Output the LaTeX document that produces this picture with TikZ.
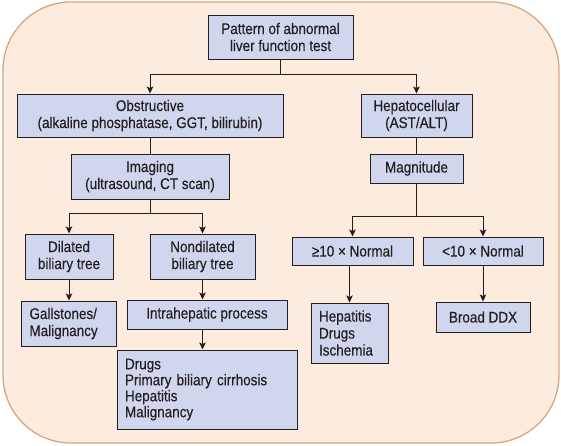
\documentclass[tikz,border=0pt]{standalone}
\usepackage{fontspec}
\setmainfont{Liberation Sans}[FakeStretch=0.87, FakeBold=0.3]
\usetikzlibrary{arrows.meta}
\definecolor{bgfill}{RGB}{253,236,222}
\definecolor{bgline}{RGB}{214,166,128}
\definecolor{boxfill}{RGB}{208,214,238}
\definecolor{inkline}{RGB}{35,31,32}

\begin{document}
\begin{tikzpicture}[
    x=1pt, y=-1pt,
    stepbox/.style={draw=inkline, fill=boxfill, line width=1pt, inner sep=0pt, align=center, text=inkline, font=\fontsize{15.5}{17}\selectfont},
    listbox/.style={stepbox, align=left, inner xsep=8pt},
    link/.style={draw=inkline, line width=1pt},
    arrowlink/.style={link, -{Stealth[length=7pt, width=6.5pt, inset=1.5pt]}}
]
\useasboundingbox (0,0) rectangle (561,445);

% Rounded background panel
\draw[draw=bgline, fill=bgfill, line width=1.3pt, rounded corners=68pt] (3,2) rectangle (559,443);

% Top level
\node[stepbox, minimum width=145, minimum height=44] (pattern) at (280.5,37) {Pattern of abnormal\\liver function test};
\node[stepbox, minimum width=266, minimum height=43] (obst) at (150,115.5) {Obstructive\\(alkaline phosphatase, GGT, bilirubin)};
\node[stepbox, minimum width=111, minimum height=43] (hepato) at (416.5,115.5) {Hepatocellular\\(AST/ALT)};

% Obstructive branch
\node[stepbox, minimum width=158, minimum height=45] (imaging) at (150,176.5) {Imaging\\(ultrasound, CT scan)};
\node[stepbox, minimum width=88, minimum height=45] (dilated) at (69,256.5) {Dilated\\biliary tree};
\node[stepbox, minimum width=105, minimum height=45] (nondil) at (202.5,256.5) {Nondilated\\biliary tree};
\node[listbox, text width=79, minimum height=45] (gall) at (69,323.5) {Gallstones/\\Malignancy};
\node[stepbox, minimum width=160, minimum height=29] (intra) at (207,314.5) {Intrahepatic process};
\node[listbox, text width=164, minimum height=79, font=\fontsize{15.5}{16}\selectfont] (causes) at (207,389.5) {Drugs\\Primary biliary cirrhosis\\Hepatitis\\Malignancy};

% Hepatocellular branch
\node[stepbox, minimum width=93, minimum height=29] (magn) at (416.5,168.5) {Magnitude};
\node[stepbox, minimum width=121, minimum height=28] (high) at (352.5,251) {≥10 × Normal};
\node[stepbox, minimum width=120, minimum height=28] (low) at (483,251) {<10 × Normal};
\node[listbox, text width=61, minimum height=60] (hepat) at (349.5,333) {Hepatitis\\Drugs\\Ischemia};
\node[stepbox, minimum width=94, minimum height=30] (broad) at (483,317) {Broad DDX};

% Split points
\coordinate (split1) at (280.5,74);
\coordinate (split2) at (150,213);
\coordinate (split3) at (416.5,216);

% Connectors
\draw[link] (pattern) -- (split1);
\draw[arrowlink] (split1) -| (obst);
\draw[arrowlink] (split1) -| (hepato);

\draw[link] (obst) -- (imaging);
\draw[link] (imaging) -- (split2);
\draw[arrowlink] (split2) -| (dilated);
\draw[arrowlink] (split2) -| (nondil);
\draw[arrowlink] (dilated) -- (gall);
\draw[arrowlink] (nondil) -- (nondil |- intra.north);
\draw[arrowlink] (intra.south -| nondil) -- (causes.north -| nondil);

\draw[link] (hepato) -- (magn);
\draw[link] (magn) -- (split3);
\draw[arrowlink] (split3) -| (high);
\draw[arrowlink] (split3) -| (low);
\draw[arrowlink] (high.south -| hepat) -- (hepat);
\draw[arrowlink] (low) -- (broad);
\end{tikzpicture}
\end{document}
